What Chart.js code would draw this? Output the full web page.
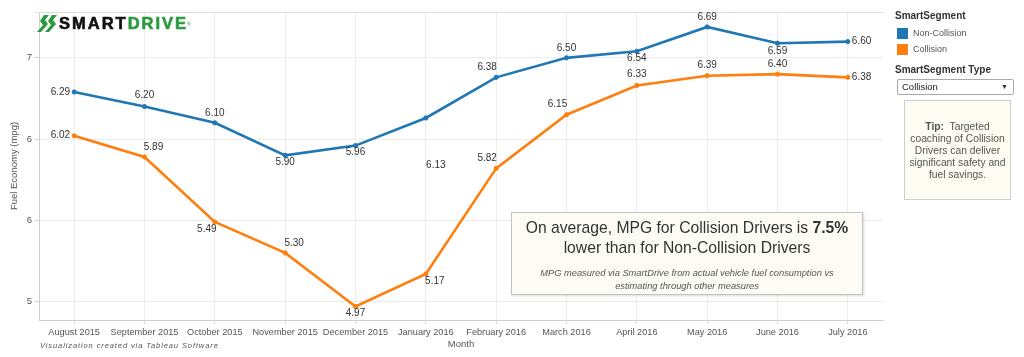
<!DOCTYPE html>
<html>
<head>
<meta charset="utf-8">
<script src="https://cdn.jsdelivr.net/npm/chart.js@4/dist/chart.umd.min.js"></script>
<style>
  html, body { margin:0; padding:0; background:#fff; }
  body { width:1024px; height:357px; position:relative; overflow:hidden; font-family:"Liberation Sans", Arial, sans-serif; }
  #wrap { position:absolute; left:0; top:0; width:1024px; height:357px; }
  .abs { position:absolute; }
  #logo { left:37px; top:12px; height:22px; display:flex; align-items:center; white-space:nowrap; }
  #logo .t { font-family:"Liberation Sans", Arial, sans-serif; font-weight:bold; font-size:16.5px; letter-spacing:2px; line-height:20px; -webkit-text-stroke:0.6px; }
  #logo .s { color:#111; -webkit-text-stroke-color:#111; }
  #logo .d { color:#2b9a3e; -webkit-text-stroke-color:#2b9a3e; }
  #logo sup { font-size:5px; color:#2b9a3e; vertical-align:top; position:relative; top:1px; margin-left:-1px; }
  .hdr { font-size:10px; font-weight:bold; color:#333; }
  .leg { font-size:9px; color:#555; }
  .sw { width:11px; height:11px; }
  #dd { left:897px; top:79px; width:117px; height:16px; border:1px solid #aaa; border-radius:2px; box-sizing:border-box; font-size:9.5px; color:#222; line-height:14px; padding-left:4px; }
  #dd .arr { position:absolute; right:5px; top:0; font-size:7px; color:#333; }
  #tip { left:904px; top:100px; width:107px; height:100px; box-sizing:border-box; border:1px solid #cfcfcf; background:#fdfcf2; font-size:10.3px; color:#555; text-align:center; line-height:12px; padding-top:20px; }
  #ann { left:511px; top:212px; width:352px; height:83px; box-sizing:border-box; border:1px solid #c4c4c4; background:#fdfcf4; box-shadow:1px 1px 2px rgba(0,0,0,0.15); text-align:center; color:#333; }
  #ann .l1 { font-size:15.7px; line-height:20px; margin-top:5px; }
  #ann .l2 { font-size:9.3px; font-style:italic; color:#555; line-height:12.5px; margin-top:9px; }
  #credit { left:40px; top:341px; font-size:7.5px; font-style:italic; color:#555; letter-spacing:0.9px; }
</style>
</head>
<body>
<div id="wrap"><canvas id="c" width="1024" height="357"></canvas></div>

<div id="logo" class="abs">
  <svg width="21" height="19" viewBox="0 0 21 19" style="margin-right:1px">
    <path d="M7 1 L12 1 L8 6 L11 10 L4 18 L0 18 L6 11 L3 7 Z" fill="#2b9a3e"/>
    <path d="M15 1 L20 1 L16 6 L19 10 L12 18 L8 18 L14 11 L11 7 Z" fill="#2b9a3e"/>
  </svg>
  <span class="t s">SMART</span><span class="t d">DRIVE</span><sup>®</sup>
</div>

<div class="abs hdr" style="left:895px; top:10px;">SmartSegment</div>
<div class="abs sw" style="left:897px; top:28px; background:#1f77b4;"></div>
<div class="abs leg" style="left:913px; top:28px;">Non-Collision</div>
<div class="abs sw" style="left:897px; top:44px; background:#ff7f0e;"></div>
<div class="abs leg" style="left:913px; top:44px;">Collision</div>
<div class="abs hdr" style="left:895px; top:64px;">SmartSegment Type</div>
<div id="dd" class="abs">Collision<span class="arr">&#9660;</span></div>
<div id="tip" class="abs"><b>Tip:</b>&nbsp; Targeted coaching of Collision Drivers can deliver significant safety and fuel savings.</div>

<div id="ann" class="abs">
  <div class="l1">On average, MPG for Collision Drivers is <b>7.5%</b><br>lower than for Non-Collision Drivers</div>
  <div class="l2">MPG measured via SmartDrive from actual vehicle fuel consumption vs<br>estimating through other measures</div>
</div>
<div id="credit" class="abs">Visualization created via Tableau Software</div>

<script>
const months = ["August 2015","September 2015","October 2015","November 2015","December 2015","January 2016","February 2016","March 2016","April 2016","May 2016","June 2016","July 2016"];
const nonCollision = [6.29, 6.20, 6.10, 5.90, 5.96, 6.13, 6.38, 6.50, 6.54, 6.69, 6.59, 6.60];
const collision    = [6.02, 5.89, 5.49, 5.30, 4.97, 5.17, 5.82, 6.15, 6.33, 6.39, 6.40, 6.38];
const yTickValues  = [5, 5.5, 6, 6.5];

// label placement (dx, dy, align) relative to each point
const nonCollisionLabelPos = [[-4,0,'right'],[0,-11,'center'],[0,-10,'center'],[0,7,'center'],[0,7,'center'],[10,47,'center'],[-9,-10,'center'],[0,-10,'center'],[0,7,'center'],[0,-10,'center'],[0,8,'center'],[4,0,'left']];
const collisionLabelPos    = [[-4,-1,'right'],[9,-10,'center'],[-8,7,'center'],[9,-10,'center'],[0,7,'center'],[9,7,'center'],[-9,-10,'center'],[-9,-10,'center'],[0,-11,'center'],[0,-10,'center'],[0,-10,'center'],[4,0,'left']];

const BLUE = '#1f77b4', ORANGE = '#ff7f0e';

const labelPlugin = {
  id: 'pointLabels',
  afterDatasetsDraw(chart) {
    const ctx = chart.ctx;
    const pos = [nonCollisionLabelPos, collisionLabelPos];
    ctx.save();
    ctx.font = '10px "Liberation Sans", Arial, sans-serif';
    ctx.fillStyle = '#333';
    ctx.textBaseline = 'middle';
    chart.data.datasets.forEach((ds, di) => {
      const meta = chart.getDatasetMeta(di);
      meta.data.forEach((pt, i) => {
        const p = pos[di][i];
        ctx.textAlign = p[2];
        ctx.fillText(ds.data[i].toFixed(2), pt.x + p[0], pt.y + p[1]);
      });
    });
    ctx.restore();
  }
};

const framePlugin = {
  id: 'frame',
  beforeDatasetsDraw(chart) {
    const a = chart.chartArea, ctx = chart.ctx;
    ctx.save();
    ctx.strokeStyle = '#dcdcdc';
    ctx.lineWidth = 1;
    ctx.beginPath();
    ctx.moveTo(a.left - 4, a.top + 0.5);
    ctx.lineTo(a.right, a.top + 0.5);
    ctx.stroke();
    ctx.restore();
  }
};

new Chart(document.getElementById('c'), {
  type: 'line',
  data: {
    labels: months,
    datasets: [
      { label: 'Non-Collision', data: nonCollision, borderColor: BLUE, backgroundColor: BLUE, borderWidth: 2.6, pointRadius: 2.1, pointHoverRadius: 2.1, pointBorderWidth: 1, tension: 0 },
      { label: 'Collision', data: collision, borderColor: ORANGE, backgroundColor: ORANGE, borderWidth: 2.6, pointRadius: 2.1, pointHoverRadius: 2.1, pointBorderWidth: 1, tension: 0 }
    ]
  },
  options: {
    responsive: false,
    animation: false,
    events: [],
    layout: { padding: { left: 0, top: 12, right: 141, bottom: 0 } },
    plugins: { legend: { display: false }, tooltip: { enabled: false } },
    scales: {
      x: {
        offset: true,
        afterFit(s) { s.height = 37; },
        grid: { color: '#ececec', tickLength: 4, tickColor: '#d8d8d8', offset: false },
        border: { color: '#cfcfcf' },
        ticks: { color: '#555', font: { size: 9.2, family: '"Liberation Sans", Arial, sans-serif' }, padding: 3, maxRotation: 0, autoSkip: false },
        title: { display: true, text: 'Month', color: '#555', font: { size: 9.5, family: '"Liberation Sans", Arial, sans-serif' }, padding: { top: 0, bottom: 7 } }
      },
      y: {
        min: 4.887, max: 6.782,
        afterFit(s) { s.width = 39; },
        afterBuildTicks(s) { s.ticks = yTickValues.map(v => ({ value: v })); },
        grid: { color: '#ececec', tickLength: 4, tickColor: '#cfcfcf' },
        border: { color: '#cfcfcf' },
        ticks: { color: '#555', font: { size: 9.5, family: '"Liberation Sans", Arial, sans-serif' }, padding: 3, callback: v => String(Math.round(v)) },
        title: { display: true, text: 'Fuel Economy (mpg)', color: '#555', font: { size: 9.5, family: '"Liberation Sans", Arial, sans-serif' }, padding: { top: 9, bottom: 0 } }
      }
    }
  },
  plugins: [framePlugin, labelPlugin]
});
</script>
</body>
</html>
